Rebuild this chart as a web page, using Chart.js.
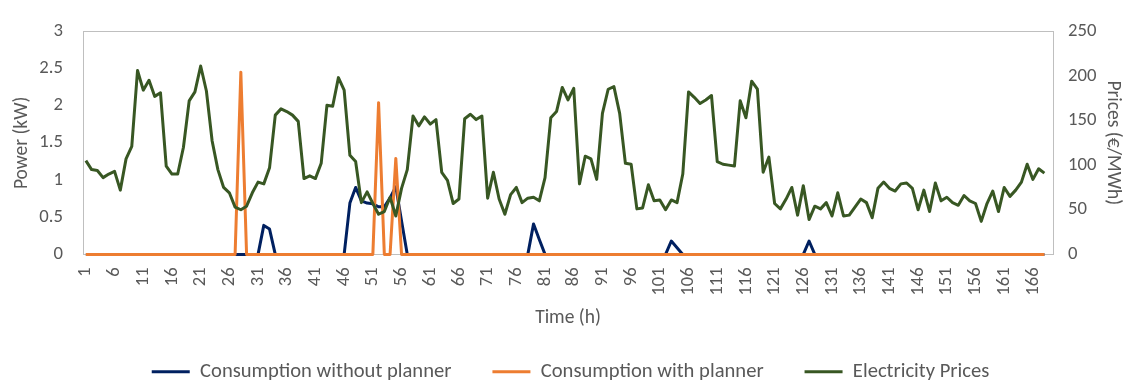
<!DOCTYPE html>
<html>
<head>
<meta charset="utf-8">
<script src="https://cdn.jsdelivr.net/npm/chart.js@4.4.0/dist/chart.umd.min.js"></script>
<style>
  html, body { margin: 0; padding: 0; background: #fff; }
</style>
</head>
<body>
<canvas id="chart" width="1125" height="385"></canvas>
<script>
// hours on the category axis (one spare slot at the end, as in the original)
const hours = [1,2,3,4,5,6,7,8,9,10,11,12,13,14,15,16,17,18,19,20,21,22,23,24,25,26,27,28,29,30,
  31,32,33,34,35,36,37,38,39,40,41,42,43,44,45,46,47,48,49,50,51,52,53,54,55,56,57,58,59,60,
  61,62,63,64,65,66,67,68,69,70,71,72,73,74,75,76,77,78,79,80,81,82,83,84,85,86,87,88,89,90,
  91,92,93,94,95,96,97,98,99,100,101,102,103,104,105,106,107,108,109,110,111,112,113,114,115,116,117,118,119,120,
  121,122,123,124,125,126,127,128,129,130,131,132,133,134,135,136,137,138,139,140,141,142,143,144,145,146,147,148,149,150,
  151,152,153,154,155,156,157,158,159,160,161,162,163,164,165,166,167,168,169];

// kW
const withoutPlanner = [
  0,0,0,0,0,0,0,0,0,0, 0,0,0,0,0,0,0,0,0,0, 0,0,0,0,0,0,0,0,0,0,
  0,0.39,0.34,0,0,0,0,0,0,0, 0,0,0,0,0,0,0.69,0.90,0.72,0.69, 0.68,0.64,0.64,0.76,0.91,0.45,0,0,0,0,
  0,0,0,0,0,0,0,0,0,0, 0,0,0,0,0,0,0,0,0.41,0.20, 0,0,0,0,0,0,0,0,0,0,
  0,0,0,0,0,0,0,0,0,0, 0,0,0.18,0.09,0,0,0,0,0,0, 0,0,0,0,0,0,0,0,0,0,
  0,0,0,0,0,0,0.18,0,0,0, 0,0,0,0,0,0,0,0,0,0, 0,0,0,0,0,0,0,0,0,0,
  0,0,0,0,0,0,0,0,0,0, 0,0,0,0,0,0,0,0
];
const withPlanner = [
  0,0,0,0,0,0,0,0,0,0, 0,0,0,0,0,0,0,0,0,0, 0,0,0,0,0,0,0,2.45,0,0,
  0,0,0,0,0,0,0,0,0,0, 0,0,0,0,0,0,0,0,0,0, 0,2.04,0,0,1.29,0,0,0,0,0,
  0,0,0,0,0,0,0,0,0,0, 0,0,0,0,0,0,0,0,0,0, 0,0,0,0,0,0,0,0,0,0,
  0,0,0,0,0,0,0,0,0,0, 0,0,0,0,0,0,0,0,0,0, 0,0,0,0,0,0,0,0,0,0,
  0,0,0,0,0,0,0,0,0,0, 0,0,0,0,0,0,0,0,0,0, 0,0,0,0,0,0,0,0,0,0,
  0,0,0,0,0,0,0,0,0,0, 0,0,0,0,0,0,0,0
];
// €/MWh
const prices = [
  105,95,94,86,90,93,72,107,121,206, 184,195,177,181,99,90,90,120,172,182,
  211,183,127,95,75,69,53,50,54,69, 81,79,97,156,163,160,156,149,85,88,
  85,102,167,166,198,184,111,104,58,70, 57,45,48,64,43,74,95,155,144,154,
  146,151,92,83,57,62,152,157,151,155, 63,92,62,45,67,75,58,63,64,60,
  86,153,160,187,173,186,79,110,107,84, 158,185,188,158,102,101,51,52,78,60,
  61,50,61,58,90,182,176,169,173,178, 104,101,100,99,172,153,194,185,92,109,
  57,51,62,75,44,77,39,54,51,58, 43,69,43,44,53,62,58,41,74,81,
  74,71,79,80,74,50,72,48,80,60, 64,58,55,66,60,57,37,57,71,48,
  75,65,72,81,101,84,96,91
];

const powerTicks = [0, 0.5, 1, 1.5, 2, 2.5, 3];
const priceTicks = [0, 50, 100, 150, 200, 250];

const FONT = 'Carlito, Calibri, Lato, sans-serif';
const GREY = '#595959';

// outline round the plot area, like the Excel frame
const plotFrame = {
  id: 'plotFrame',
  beforeDatasetsDraw(chart) {
    const { ctx, chartArea: a } = chart;
    ctx.save();
    ctx.strokeStyle = '#bfbfbf';
    ctx.lineWidth = 1;
    ctx.strokeRect(Math.round(a.left) + 0.5, Math.round(a.top) + 0.5,
      Math.round(a.right - a.left), Math.round(a.bottom - a.top));
    ctx.restore();
  }
};

// Excel centres the legend under the plot area, not the whole canvas
const legendNudge = {
  id: 'legendNudge',
  afterLayout(chart) {
    const lg = chart.legend;
    if (!lg) return;
    lg.left += 8;
    lg.right += 8;
  }
};

function series(label, data, color, axis, order) {
  return {
    label, data, yAxisID: axis, order,
    borderColor: color,
    backgroundColor: color,
    pointBorderColor: color,
    pointBackgroundColor: color,
    pointBorderWidth: 3,
    clip: 4
  };
}

new Chart(document.getElementById('chart'), {
  type: 'line',
  data: {
    labels: hours,
    datasets: [
      series('Consumption without planner', withoutPlanner, '#002060', 'y', 2),
      series('Consumption with planner', withPlanner, '#ed7d31', 'y', 1),
      series('Electricity Prices', prices, '#385723', 'y1', 0)
    ]
  },
  options: {
    responsive: false,
    animation: false,
    layout: { padding: { top: 16, bottom: -7, left: 0, right: 0 } },
    elements: {
      line: { borderWidth: 3, tension: 0, borderJoinStyle: 'round' },
      point: { radius: 0 }
    },
    plugins: {
      tooltip: { enabled: false },
      legend: {
        position: 'bottom',
        labels: {
          usePointStyle: true,
          pointStyle: 'line',
          pointStyleWidth: 38,
          padding: 41,
          color: GREY,
          font: { family: FONT, size: 20.6 },
          sort: (a, b) => a.datasetIndex - b.datasetIndex
        }
      }
    },
    scales: {
      x: {
        offset: true,
        grid: { display: false, drawTicks: false },
        border: { display: false },
        ticks: {
          autoSkip: false,
          maxRotation: 90,
          minRotation: 90,
          padding: 13,
          color: GREY,
          font: { family: FONT, size: 18.5 },
          callback: (v, i) => (i % 5 === 0 ? hours[i] : '')
        },
        title: {
          display: true,
          text: 'Time (h)',
          color: GREY,
          font: { family: FONT, size: 19.5 },
          padding: { top: 0, bottom: -9 }
        },
        afterFit: s => { s.height = 66; }
      },
      y: {
        position: 'left',
        min: 0,
        max: 3,
        grid: { display: false, drawTicks: false },
        border: { display: false },
        afterBuildTicks: s => { s.ticks = powerTicks.map(v => ({ value: v })); },
        ticks: { padding: 20, color: GREY, font: { family: FONT, size: 18.7 }, callback: v => String(v) },
        title: {
          display: true,
          text: 'Power (kW)',
          color: GREY,
          font: { family: FONT, size: 19.5 },
          padding: { top: 10.5, bottom: 0 }
        },
        afterFit: s => { s.width = 83; }
      },
      y1: {
        position: 'right',
        min: 0,
        max: 250,
        grid: { display: false, drawTicks: false },
        border: { display: false },
        afterBuildTicks: s => { s.ticks = priceTicks.map(v => ({ value: v })); },
        ticks: { padding: 15, color: GREY, font: { family: FONT, size: 18.7 }, callback: v => String(v) },
        title: {
          display: true,
          text: 'Prices (€/MWh)',
          color: GREY,
          font: { family: FONT, size: 19.5 },
          padding: { top: 0.5, bottom: 0 }
        },
        afterFit: s => { s.width = 72; }
      }
    }
  },
  plugins: [plotFrame, legendNudge]
});
</script>
</body>
</html>
